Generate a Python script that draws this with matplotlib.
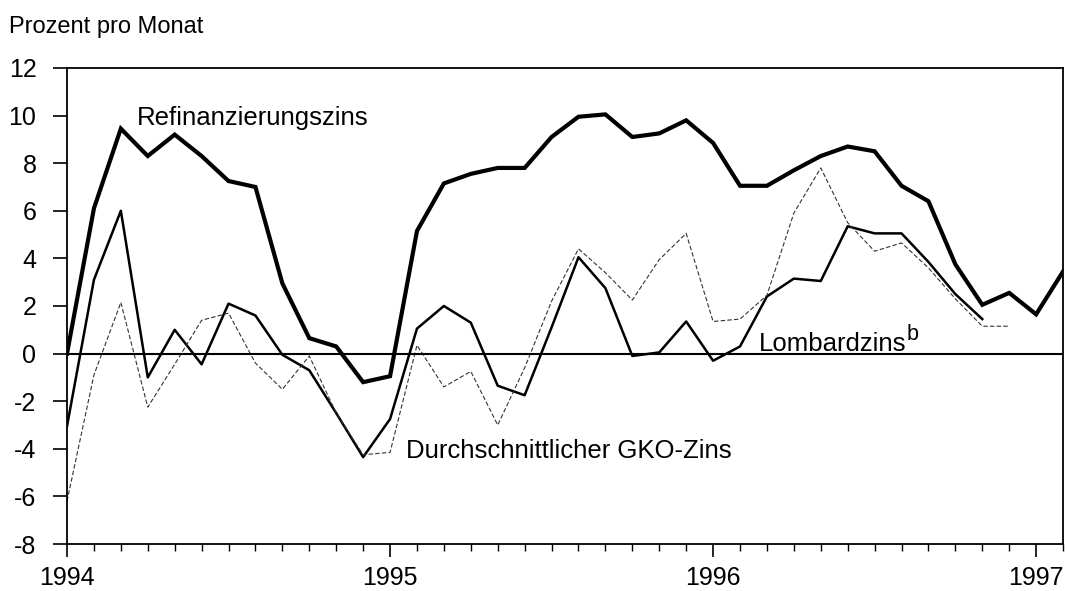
import matplotlib.pyplot as plt
import numpy as np

plt.rcParams['font.family'] = ['Liberation Sans', 'DejaVu Sans']
plt.rcParams['axes.unicode_minus'] = False

# monthly values, Jan 1994 onwards
refi = [0.0, 6.1, 9.45, 8.3, 9.2, 8.3, 7.25, 7.0, 2.95, 0.65, 0.3, -1.2,
        -0.95, 5.15, 7.15, 7.55, 7.8, 7.8, 9.1, 9.95, 10.05, 9.1, 9.25, 9.8,
        8.85, 7.05, 7.05, 7.7, 8.3, 8.7, 8.5, 7.05, 6.4, 3.75, 2.05, 2.55,
        1.65, 3.45]
lombard = [-3.05, 3.1, 6.0, -1.0, 1.0, -0.45, 2.1, 1.6, -0.05, -0.7, -2.5, -4.35,
           -2.75, 1.05, 2.0, 1.3, -1.35, -1.75, 1.1, 4.05, 2.75, -0.1, 0.05, 1.35,
           -0.3, 0.3, 2.4, 3.15, 3.05, 5.35, 5.05, 5.05, 3.85, 2.5, 1.45]
gko = [-6.2, -0.9, 2.15, -2.25, -0.45, 1.4, 1.7, -0.4, -1.5, -0.1, -2.5, -4.25,
       -4.15, 0.35, -1.4, -0.75, -3.0, -0.6, 2.2, 4.4, 3.4, 2.25, 3.95, 5.05,
       1.35, 1.45, 2.45, 5.9, 7.8, 5.5, 4.3, 4.65, 3.6, 2.3, 1.15, 1.15]
years = ['1994', '1995', '1996', '1997']

fig = plt.figure(figsize=(10.67, 5.91), dpi=100)
ax = fig.add_axes([0.0628, 0.0795, 0.9335, 0.8055])

ax.plot(np.arange(len(refi)), refi, color='black', lw=3.0, solid_joinstyle='miter')
ax.plot(np.arange(len(lombard)), lombard, color='black', lw=1.8)
ax.plot(np.arange(len(gko)), gko, color='#333333', lw=0.8, dashes=(4, 2))
ax.axhline(0, color='black', lw=1.5)

ax.set_xlim(0, 37)
ax.set_ylim(-8, 12)
ax.set_yticks(np.arange(-8, 13, 2))
ax.set_xticks(np.arange(0, 37, 12))
ax.set_xticklabels(years)
ax.set_xticks(np.arange(0, 38), minor=True)

ax.tick_params(axis='y', direction='out', length=10, width=1.2, pad=12, labelsize=18)
ax.tick_params(axis='x', which='major', direction='out', length=9, width=1.2, pad=7, labelsize=18)
ax.tick_params(axis='x', which='minor', direction='out', length=5, width=1.0)
for s in ax.spines.values():
    s.set_linewidth(1.3)

ax.text(2.6, 9.6, 'Refinanzierungszins', fontsize=18.5)
lt = ax.text(25.7, 0.12, 'Lombardzins', fontsize=18.5)
ax.annotate('b', xy=(1.0, 0.45), xycoords=lt, fontsize=15.5, va='bottom', ha='left')
ax.text(12.6, -4.4, 'Durchschnittlicher GKO-Zins', fontsize=18.5)
fig.text(0.008, 0.955, 'Prozent pro Monat', fontsize=17, va='center')

fig.savefig('out.png', dpi=100)
